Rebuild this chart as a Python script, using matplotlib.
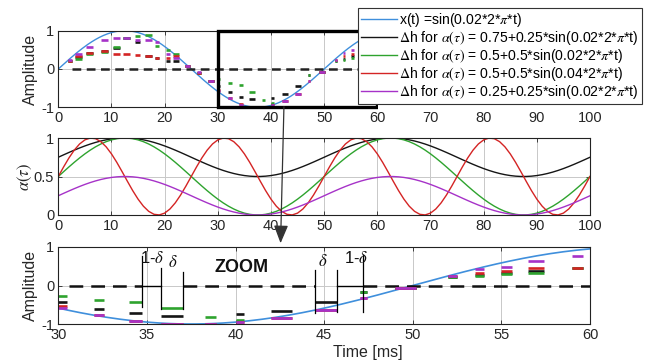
import numpy as np
import matplotlib
matplotlib.use("Agg")
import matplotlib.pyplot as plt
from matplotlib.patches import Rectangle, FancyArrowPatch

plt.rcParams['font.family'] = ['Liberation Sans', 'DejaVu Sans']
plt.rcParams['mathtext.fontset'] = 'stix'
plt.rcParams['axes.unicode_minus'] = False

# ---- signal and modulation parameters (as given in the legend) ----
sig_freq = 0.02
alpha_offset = [0.75, 0.5, 0.5, 0.25]
alpha_amp = [0.25, 0.5, 0.5, 0.25]
alpha_freq = [0.02, 0.02, 0.04, 0.02]
alpha_labels = ['0.75+0.25*sin(0.02*2*$\\pi$*t)',
                '0.5+0.5*sin(0.02*2*$\\pi$*t)',
                '0.5+0.5*sin(0.04*2*$\\pi$*t)',
                '0.25+0.25*sin(0.02*2*$\\pi$*t)']

# ---- held amplitude steps (start, end in ms) ----
win_start = [1.9, 3.1, 5.2, 8.0, 10.3, 12.2, 14.4, 16.3, 18.2, 20.3, 21.6, 23.8, 26.0, 28.2,
             30.0, 32.0, 34.0, 35.8, 38.3, 40.0, 42.0, 44.5, 47.0, 49.0, 52.0, 53.5, 55.0, 56.5, 59.0]
win_end = [2.5, 4.4, 6.6, 9.4, 11.6, 13.5, 15.4, 17.6, 19.0, 21.1, 22.7, 24.8, 26.8, 29.2,
           30.5, 32.6, 34.7, 37.05, 38.9, 40.5, 43.2, 45.7, 47.4, 50.2, 52.5, 54.0, 55.6, 57.4, 59.6]
nan = np.nan
dh_black = [0.22, 0.31, 0.43, 0.47, 0.55, 0.80, 0.70, 0.34, 0.28, 0.21, 0.20, 0.08, -0.10, -0.32,
            -0.44, -0.61, -0.72, -0.79, nan, -0.75, -0.65, -0.44, -0.16, -0.07, 0.22, 0.27, 0.33, 0.38, 0.45]
dh_green = [0.22, 0.26, 0.38, 0.44, 0.57, 0.82, 0.85, 0.90, 0.60, 0.50, 0.40, 0.08, -0.10, -0.32,
            -0.27, -0.37, -0.43, -0.59, -0.81, -0.90, nan, nan, -0.16, -0.07, 0.22, 0.24, 0.29, 0.33, 0.45]
dh_red = [0.22, 0.35, 0.43, 0.46, 0.39, 0.40, 0.36, 0.34, 0.30, 0.30, 0.35, 0.08, -0.10, -0.32,
          -0.54, -0.77, -0.92, -0.99, -1.0, -0.94, -0.84, -0.64, -0.32, -0.07, 0.24, 0.33, 0.38, 0.45, 0.46]
dh_purple = [0.24, 0.39, 0.58, 0.76, 0.82, 0.82, 0.77, 0.75, 0.71, 0.40, 0.30, 0.08, -0.09, -0.32,
             -0.58, -0.77, -0.93, -0.99, -1.0, -0.94, -0.84, -0.64, -0.32, -0.07, 0.24, 0.43, 0.49, 0.64, 0.76]

c_blue = '#3f8fdc'
series_colors = ['#151515', '#2ea32e', '#d42424', '#a632c8']
dh_series = [dh_black, dh_green, dh_red, dh_purple]
grid_col = '#c8c8c8'
tick_col = '#262626'

fig = plt.figure(figsize=(6.61, 3.60), dpi=100)
W, H = 661.0, 360.0

def axes_px(x0, y0, x1, y1):
    return fig.add_axes([x0 / W, 1 - y1 / H, (x1 - x0) / W, (y1 - y0) / H])

def style(ax):
    ax.tick_params(direction='in', length=3, width=0.6, top=True, right=True,
                   labelsize=10.5, colors=tick_col, pad=3)
    for s in ax.spines.values():
        s.set_linewidth(0.8)
        s.set_color('#222222')
    ax.grid(True, color=grid_col, linewidth=0.7)
    ax.set_axisbelow(True)

def draw_steps(ax, tmin, tmax):
    for vals, col in zip(dh_series, series_colors):
        for a, b, v in zip(win_start, win_end, vals):
            if np.isnan(v) or b < tmin or a > tmax:
                continue
            ax.plot([a, b], [v, v], color=col, lw=1.9, solid_capstyle='butt')

t = np.arange(0, 100.5, 0.25)
x_sig = np.sin(sig_freq * 2 * np.pi * t)

# ---------------- top panel ----------------
ax1 = axes_px(58.3, 30.7, 590, 107.3)
style(ax1)
h_sig, = ax1.plot(t, x_sig, color=c_blue, lw=1.0)
ax1.plot([2.5, 62], [0, 0], color='#222222', lw=1.8, dashes=(3.5, 2.2))
draw_steps(ax1, 0, 100)
ax1.set_xlim(0, 100)
ax1.set_ylim(-1, 1)
ax1.set_xticks(np.arange(0, 101, 10))
ax1.set_yticks([-1, 0, 1])
ax1.set_ylabel('Amplitude', fontsize=11.5, color=tick_col, labelpad=2)
ax1.add_patch(Rectangle((30, -1), 30, 2, fill=False, edgecolor='black', lw=2.4,
                        clip_on=False, zorder=5))

# ---------------- middle panel ----------------
ax2 = axes_px(58.3, 138, 590, 215)
style(ax2)
ta = np.arange(0, 101, 1.0)
for off, amp, fr, col in zip(alpha_offset, alpha_amp, alpha_freq, series_colors):
    ax2.plot(ta, off + amp * np.sin(fr * 2 * np.pi * ta), color=col, lw=1.0)
ax2.set_xlim(0, 100)
ax2.set_ylim(0, 1)
ax2.set_xticks(np.arange(0, 101, 10))
ax2.set_yticks([0, 0.5, 1])
ax2.set_yticklabels(['0', '0.5', '1'])
ax2.set_ylabel(r'$\alpha(\tau)$', fontsize=12, color=tick_col, labelpad=0)

# ---------------- bottom panel (zoom) ----------------
ax3 = axes_px(58.3, 247, 590, 324)
style(ax3)
ax3.plot(t, x_sig, color=c_blue, lw=1.2)
zero_runs = [(30.6, 34.75), (37.05, 44.5), (47.2, 60)]
for a, b in zero_runs:
    ax3.plot([a, b], [0, 0], color='#111111', lw=1.8, dashes=(5.5, 3.2))
ax3.plot([34.75, 35.8], [0, 0], color='black', lw=1.0)
ax3.plot([45.7, 47.2], [0, 0], color='black', lw=1.0)
draw_steps(ax3, 30, 60)
# timing markers
marker_t = [34.75, 35.8, 37.05, 44.5, 45.7, 47.2]
marker_top = [0.76, 0.45, 0.36, 0.40, 0.40, 0.78]
marker_bot = [-0.57, -0.62, -0.62, -0.72, -0.70, -0.70]
for mt, y0, y1 in zip(marker_t, marker_bot, marker_top):
    ax3.plot([mt, mt], [y0, y1], color='black', lw=0.9)
ax3.text(34.6, 0.72, r'1-$\delta$', fontsize=12, ha='left', va='center', color='#111111')
ax3.text(36.45, 0.60, r'$\delta$', fontsize=12, ha='center', va='center', color='#111111')
ax3.text(44.95, 0.63, r'$\delta$', fontsize=12, ha='center', va='center', color='#111111')
ax3.text(46.1, 0.72, r'1-$\delta$', fontsize=12, ha='left', va='center', color='#111111')
ax3.text(40.35, 0.47, 'ZOOM', fontsize=13, fontweight='bold', ha='center', va='center',
         color='#111111')
ax3.set_xlim(30, 60)
ax3.set_ylim(-1, 1)
ax3.set_xticks(np.arange(30, 61, 5))
ax3.set_yticks([-1, 0, 1])
ax3.set_ylabel('Amplitude', fontsize=11.5, color=tick_col, labelpad=2)
ax3.text(0.583, -0.375, 'Time [ms]', transform=ax3.transAxes, fontsize=11.5,
         ha='center', va='center', color=tick_col)

# mask over the right part of the top panel below the legend
fig.add_artist(Rectangle((378 / W, 1 - 110 / H), (661 - 378) / W, 16 / H,
                         transform=fig.transFigure, facecolor='white', edgecolor='none',
                         zorder=8))

# arrow from the zoom box down to the zoomed panel
fig.add_artist(FancyArrowPatch((284 / W, 1 - 104 / H), (280.5 / W, 1 - 246 / H),
                               transform=fig.transFigure, arrowstyle='-|>,head_length=5,head_width=2',
                               mutation_scale=2.2, color='#333333', lw=0.9, zorder=9))

# legend
handles = [plt.Line2D([], [], color=c_blue, lw=1.0)]
labels = ['x(t) =sin(0.02*2*$\\pi$*t)']
for col, lab in zip(series_colors, alpha_labels):
    handles.append(plt.Line2D([], [], color=col, lw=1.0))
    labels.append('$\\Delta$h for $\\alpha(\\tau)$ = ' + lab)
leg = fig.legend(handles, labels, loc='upper left', bbox_to_anchor=(358 / W, 1 - 8 / H),
                 fontsize=10.1, frameon=True, fancybox=False, framealpha=1, edgecolor='#333333',
                 handlelength=2.6, handletextpad=0.15, labelspacing=0.0, borderpad=0.2,
                 borderaxespad=0)
leg.get_frame().set_linewidth(0.8)
leg.set_zorder(10)

fig.savefig('out.png', dpi=100)
